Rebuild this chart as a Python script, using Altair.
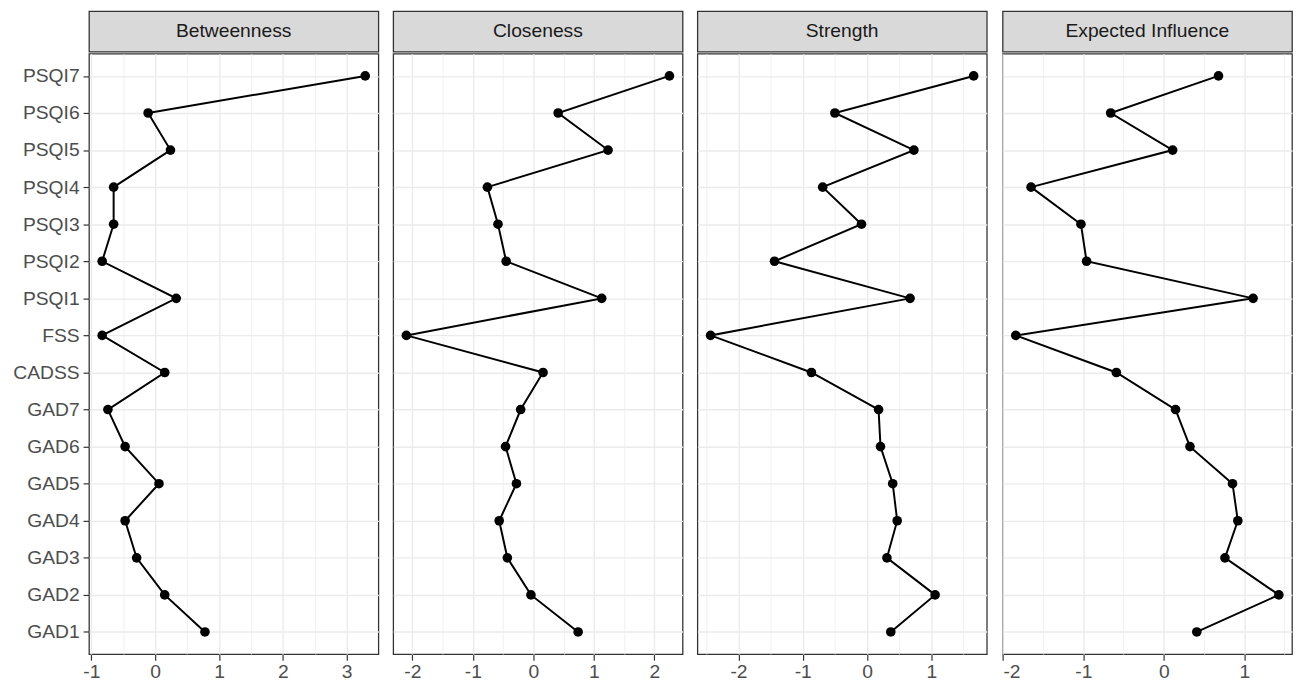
import altair as alt
import pandas as pd
import numpy as np

nodes = ["GAD1", "GAD2", "GAD3", "GAD4", "GAD5", "GAD6", "GAD7", "CADSS", "FSS",
         "PSQI1", "PSQI2", "PSQI3", "PSQI4", "PSQI5", "PSQI6", "PSQI7"]

measures = ["Betweenness", "Closeness", "Strength", "Expected Influence"]

betweenness = [0.78, 0.15, -0.29, -0.47, 0.06, -0.47, -0.74, 0.15, -0.83,
               0.33, -0.83, -0.65, -0.65, 0.24, -0.11, 3.29]
closeness = [0.74, -0.04, -0.43, -0.565, -0.28, -0.46, -0.21, 0.16, -2.10,
             1.13, -0.45, -0.585, -0.76, 1.235, 0.41, 2.25]
strength = [0.37, 1.06, 0.31, 0.47, 0.40, 0.21, 0.18, -0.865, -2.435,
            0.67, -1.44, -0.086, -0.69, 0.73, -0.50, 1.66]
expected_influence = [0.41, 1.43, 0.76, 0.92, 0.854, 0.325, 0.146, -0.59, -1.84,
                      1.11, -0.96, -1.03, -1.65, 0.11, -0.66, 0.68]

series = [betweenness, closeness, strength, expected_influence]

FONT = "Liberation Sans"
FS = 19.5
W, H, SH = 293, 608, 41
GRID = "#EBEBEB"
DARK = "#333333"
y_order = nodes[::-1]
IS_INT = "abs(datum.value - round(datum.value)) < 1e-9"

cols = []
for i, (m, vals) in enumerate(zip(measures, series)):
    df = pd.DataFrame({"node": nodes, "value": vals, "idx": list(range(len(nodes)))})
    lo, hi = min(vals), max(vals)
    pad = 0.05 * (hi - lo)
    dom = [lo - pad, hi + pad]
    tick_vals = [k / 2 for k in range(int(np.ceil(dom[0] * 2)), int(np.floor(dom[1] * 2)) + 1)]

    xaxis = alt.Axis(
        values=tick_vals,
        title=None,
        grid=True,
        gridColor=GRID,
        gridWidth={"condition": {"test": IS_INT, "value": 1.4}, "value": 0.7},
        labelExpr=f"{IS_INT} ? '' + round(datum.value) : ''",
        tickColor={"condition": {"test": IS_INT, "value": DARK}, "value": "transparent"},
        tickSize=6,
        tickWidth=1.2,
        labelPadding=3,
        domain=False,
    )
    if i == 0:
        yaxis = alt.Axis(title=None, grid=True, gridColor=GRID, gridWidth=1.4,
                         ticks=True, tickColor=DARK, tickSize=6, tickWidth=1.2,
                         labelPadding=4, domain=False)
    else:
        yaxis = alt.Axis(title=None, grid=True, gridColor=GRID, gridWidth=1.4,
                         labels=False, ticks=False, domain=False,
                         minExtent=0, maxExtent=0)

    x = alt.X("value:Q", scale=alt.Scale(domain=dom, nice=False, zero=False), axis=xaxis)
    y = alt.Y("node:N", sort=y_order, scale=alt.Scale(type="point", padding=0.6), axis=yaxis)

    base = alt.Chart(df)
    line = base.mark_line(color="black", strokeWidth=2).encode(x=x, y=y, order=alt.Order("idx:Q"))
    pts = base.mark_circle(size=95, color="black", opacity=1).encode(x=x, y=y)
    plot = alt.layer(line, pts).properties(width=W, height=H)

    strip = alt.Chart(pd.DataFrame({"t": [m]})).mark_text(
        font=FONT, fontSize=FS, color="#1A1A1A", baseline="middle", align="center"
    ).encode(
        text="t:N", x=alt.value(W / 2), y=alt.value(SH / 2)
    ).properties(width=W, height=SH,
                 view=alt.ViewBackground(fill="#D9D9D9", stroke=DARK, strokeWidth=1.3))

    cols.append(alt.vconcat(strip, plot, spacing=0))

chart = alt.hconcat(*cols, spacing=13).properties(
    padding={"left": 4, "top": -2, "right": 0, "bottom": 5}
).configure_view(
    stroke=DARK, strokeWidth=1.3
).configure_axis(
    labelFont=FONT, labelFontSize=FS, labelColor="#4D4D4D"
).configure_concat(spacing=13)

chart.save("out.html", embed_options={"renderer": "svg", "actions": False})
